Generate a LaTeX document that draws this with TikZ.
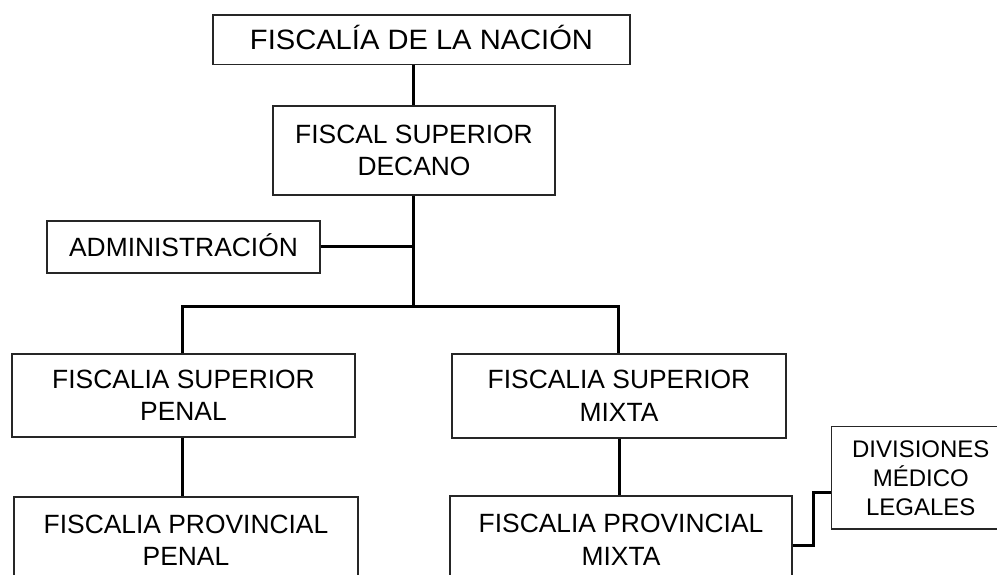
\documentclass[tikz,border=0pt]{standalone}
\usepackage{fontspec}
\setmainfont{Liberation Sans}
\newfontfamily\titlefont[FakeStretch=1.04]{Liberation Sans}
\begin{document}
\begin{tikzpicture}[x=1pt,y=-1pt,
  box/.style={draw=black!85, line width=1.3pt, inner sep=0pt, align=center,
    font=\fontsize{26.4}{32.5}\selectfont},
  oneline/.style={text height=18.9pt, text depth=0pt},
  conn/.style={line width=3pt}]
\useasboundingbox (0,0) rectangle (997,575);
\clip (0,0) rectangle (997,575);
\fill[white] (0,0) rectangle (997,575);

\node[box, minimum width=417pt, minimum height=49.5pt, text height=20pt, text depth=0pt,
  font=\titlefont\fontsize{28}{32}\selectfont] (b1) at (421.5,39.75) {FISCALÍA DE LA NACIÓN};
\node[box, minimum width=282pt, minimum height=89pt] (b2) at (414,150.5) {FISCAL SUPERIOR\\DECANO};
\node[box, oneline, minimum width=273pt, minimum height=52pt] (adm) at (183.5,247) {ADMINISTRACIÓN};
\node[box, minimum width=343pt, minimum height=83pt] (sp) at (183.5,395.5) {FISCALIA SUPERIOR\\PENAL};
\node[box, minimum width=334pt, minimum height=84pt] (sm) at (619,396) {FISCALIA SUPERIOR\\MIXTA};
\node[box, minimum width=344pt, minimum height=87pt] (pp) at (186,540.5) {FISCALIA PROVINCIAL\\PENAL};
\node[box, minimum width=342pt, minimum height=88pt] (pm) at (621,540) {FISCALIA PROVINCIAL\\MIXTA};
\node[box, minimum width=178.5pt, minimum height=102.3pt, font=\fontsize{24}{29}\selectfont]
  (dv) at (920.8,477.8) {DIVISIONES\\MÉDICO\\LEGALES};

\coordinate (spine) at (413,0);
\coordinate (bar) at (413,306);
\coordinate (lft) at (182,306);
\coordinate (rgt) at (618,306);
\coordinate (jog) at (813,0);
\coordinate (pmout) at ([yshift=-5.7pt]pm.east);
\coordinate (dvin) at ([yshift=-15pt]dv.west);

\draw[conn] (b1.south -| spine) -- (b2.north -| spine);
\draw[conn] (b2.south -| spine) -- (bar);
\draw[conn] (adm.east) -- (adm.east -| spine);
\draw[conn] (lft |- sp.north) -- (lft) -- (rgt) -- (rgt |- sm.north);
\draw[conn] (sp.south -| lft) -- (pp.north -| lft);
\draw[conn] (sm.south -| 619,0) -- (pm.north -| 619,0);
\draw[conn] (pmout) -- (pmout -| jog) -- (dvin -| jog) -- (dvin);
\end{tikzpicture}
\end{document}
